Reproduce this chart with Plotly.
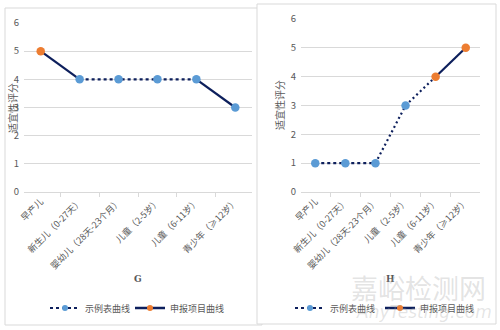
import plotly.graph_objects as go

categories = ["早产儿", "新生儿（0-27天）", "婴幼儿（28天-23个月）", "儿童（2-5岁）", "儿童（6-11岁）", "青少年（≥12岁）"]
G_scores = [5, 4, 4, 4, 4, 3]
H_scores = [1, 1, 1, 3, 4, 5]
G_declared = [True, False, False, False, False, False]
H_declared = [False, False, False, False, True, True]
series_names = ["示例表曲线", "申报项目曲线"]
panel_titles = ["G", "H"]
y_title = "适宜性评分"
y_ticks = [0, 1, 2, 3, 4, 5, 6]

NAVY = "#0D1F5C"
BLUE = "#5B9BD5"
ORANGE = "#ED7D31"
GRID = "#D9D9D9"
TXT = "#595959"
FONT = "Noto Sans CJK SC, Noto Sans, sans-serif"
W, H = 500, 330

fig = go.Figure()

# line segments: (start, end, style)
G_segments = [(0, 1, "solid"), (1, 4, "3px,3px"), (4, 5, "solid")]
H_segments = [(0, 2, "3px,3px"), (2, 4, "2px,3px"), (4, 5, "solid")]

panels = [
    ("x", "y", G_scores, G_declared, G_segments, ("legend", "legend2")),
    ("x2", "y2", H_scores, H_declared, H_segments, ("legend3", "legend4")),
]

for xa, ya, scores, declared, segs, lgs in panels:
    for a, b, st in segs:
        fig.add_trace(go.Scatter(
            x=categories[a:b + 1], y=scores[a:b + 1], mode="lines",
            line=dict(color=NAVY, width=2.2, dash=st),
            xaxis=xa, yaxis=ya, showlegend=False, hoverinfo="skip"))
    ex_x = [c for c, d in zip(categories, declared) if not d]
    ex_y = [s for s, d in zip(scores, declared) if not d]
    de_x = [c for c, d in zip(categories, declared) if d]
    de_y = [s for s, d in zip(scores, declared) if d]
    fig.add_trace(go.Scatter(x=ex_x, y=ex_y, mode="markers",
                             marker=dict(color=BLUE, size=8.5),
                             xaxis=xa, yaxis=ya, showlegend=False))
    fig.add_trace(go.Scatter(x=de_x, y=de_y, mode="markers",
                             marker=dict(color=ORANGE, size=8.5),
                             xaxis=xa, yaxis=ya, showlegend=False))
    # legend entries
    fig.add_trace(go.Scatter(x=[None], y=[None], mode="lines+markers", name=series_names[0],
                             line=dict(color=NAVY, width=2.2, dash="3px,3px"),
                             marker=dict(color=BLUE, size=6),
                             xaxis=xa, yaxis=ya, legend=lgs[0], showlegend=True))
    fig.add_trace(go.Scatter(x=[None], y=[None], mode="lines+markers", name=series_names[1],
                             line=dict(color=NAVY, width=2.5),
                             marker=dict(color=ORANGE, size=6),
                             xaxis=xa, yaxis=ya, legend=lgs[1], showlegend=True))

def px_x(v):
    return v / W

def px_y(v):
    return 1 - v / H

xaxis_common = dict(type="category", categoryorder="array", categoryarray=categories,
                    tickangle=-45, tickfont=dict(size=9, color=TXT, family=FONT),
                    showline=True, linecolor=GRID, linewidth=1,
                    ticks="outside", tickson="boundaries", ticklen=4, tickcolor=GRID,
                    showgrid=False, zeroline=False, fixedrange=True, automargin=False)
yaxis_common = dict(range=[0, 6], tickvals=y_ticks, showgrid=True, gridcolor=GRID, gridwidth=1,
                    zeroline=False, showline=False, ticks="", automargin=False,
                    tickfont=dict(size=9.5, color=TXT, family=FONT), fixedrange=True)

def leg(x):
    return dict(orientation="h", xanchor="left", yanchor="middle", x=px_x(x), y=px_y(308),
                font=dict(size=9, color=TXT, family=FONT), bgcolor="rgba(0,0,0,0)",
                itemwidth=30)

def ann(text, x, y, size, family=FONT, color=TXT, angle=0):
    return dict(text=text, x=px_x(x), y=px_y(y), xref="paper", yref="paper",
                xanchor="center", yanchor="middle", textangle=angle, showarrow=False,
                font=dict(size=size, color=color, family=family))

fig.update_layout(
    width=W, height=H, margin=dict(l=0, r=0, t=0, b=0, autoexpand=False),
    paper_bgcolor="white", plot_bgcolor="rgba(0,0,0,0)",
    font=dict(family=FONT, color=TXT),
    xaxis=dict(domain=[px_x(24), px_x(252)], anchor="y", **xaxis_common),
    yaxis=dict(domain=[px_y(192), px_y(23)], anchor="x", ticklabelstandoff=4, **yaxis_common),
    xaxis2=dict(domain=[px_x(301), px_x(480)], anchor="y2", **xaxis_common),
    yaxis2=dict(domain=[px_y(192), px_y(19)], anchor="x2", ticklabelstandoff=4, **yaxis_common),
    legend=leg(45),
    legend2=leg(130),
    legend3=leg(290),
    legend4=leg(380),
    showlegend=True,
    shapes=[
        dict(type="rect", xref="paper", yref="paper", x0=px_x(5), x1=px_x(262),
             y0=px_y(325), y1=px_y(8), line=dict(color=GRID, width=1), fillcolor="white", layer="below"),
        dict(type="rect", xref="paper", yref="paper", x0=px_x(257), x1=px_x(496),
             y0=px_y(324), y1=px_y(4), line=dict(color=GRID, width=1), fillcolor="white", layer="below"),
    ],
    annotations=[
        ann(y_title, 12, 108, 10, angle=-90),
        ann(y_title, 280, 105, 10, angle=-90),
        ann("<b>" + panel_titles[0] + "</b>", 138, 279, 9, family="DejaVu Serif, serif"),
        ann("<b>" + panel_titles[1] + "</b>", 390, 279, 9, family="DejaVu Serif, serif"),
        ann("嘉峪检测网", 418, 287, 27, color="rgba(160,160,160,0.3)"),
        ann("<i>AnyTesting.com</i>", 424, 312, 17, family="DejaVu Sans, sans-serif",
            color="rgba(160,160,160,0.28)"),
    ],
)

fig.write_html("out.html")
